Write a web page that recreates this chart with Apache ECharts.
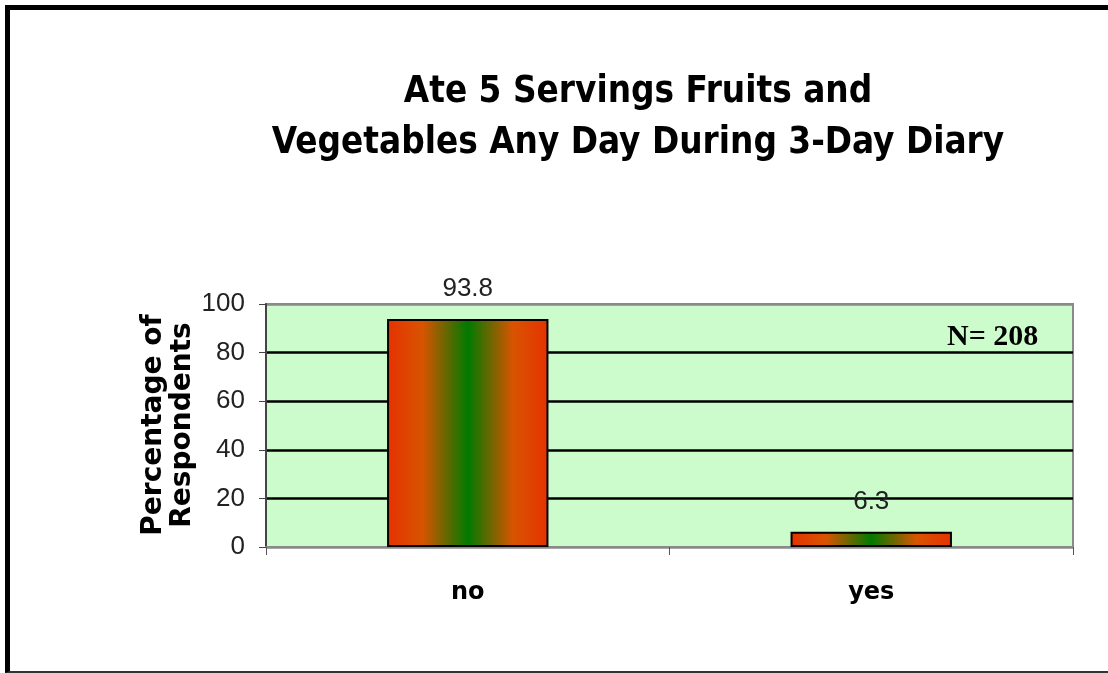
<!DOCTYPE html>
<html>
<head>
<meta charset="utf-8">
<script src="https://cdn.jsdelivr.net/npm/echarts@6/dist/echarts.min.js"></script>
<style>
  html, body { margin: 0; padding: 0; background: #fff; }
  #wrap { position: relative; width: 1108px; height: 673px; }
  #chart { width: 1108px; height: 673px; }
  #frame {
    position: absolute; left: 5px; top: 5px; right: -10px; bottom: 0px;
    border-left: 5px solid #000; border-top: 5px solid #000; border-bottom: 2px solid #333;
    pointer-events: none;
  }
</style>
</head>
<body>
<div id="wrap">
  <div id="chart"></div>
  <div id="frame"></div>
</div>
<script>
// data
const categories = ['no', 'yes']
const percentages = [93.8, 6.3]
const yTicks = [0, 20, 40, 60, 80, 100]
const titleLines = ['Ate 5 Servings Fruits and', 'Vegetables Any Day During 3-Day Diary']
const yAxisTitle = 'Percentage of\nRespondents'
const sampleNote = 'N= 208'

const myChart = echarts.init(document.getElementById('chart'))

// red - green - red across each bar
const barFill = new echarts.graphic.LinearGradient(0, 0, 1, 0, [
  { offset: 0, color: '#e63200' },
  { offset: 0.22, color: '#d85400' },
  { offset: 0.5, color: '#007a00' },
  { offset: 0.78, color: '#d85400' },
  { offset: 1, color: '#e63200' }
])

const option = {
  backgroundColor: '#fff',
  animation: false,
  title: {
    text: titleLines.join('\n'),
    left: 633,
    textAlign: 'center',
    top: 62,
    textStyle: {
      fontFamily: 'DejaVu Sans Condensed',
      fontWeight: 'bold',
      fontSize: 36.5,
      lineHeight: 51,
      color: '#000'
    }
  },
  grid: {
    left: 266,
    right: 35,
    top: 304,
    bottom: 126,
    show: true,
    backgroundColor: '#ccfccc',
    borderColor: '#8a8a8a',
    borderWidth: 2
  },
  xAxis: {
    type: 'category',
    data: categories,
    axisLine: { show: true, lineStyle: { color: '#8a8a8a', width: 2 } },
    axisTick: { show: true, length: 8, lineStyle: { color: '#555', width: 1 } },
    axisLabel: {
      margin: 34,
      fontFamily: 'DejaVu Sans',
      fontWeight: 'bold',
      fontSize: 24,
      color: '#000'
    }
  },
  yAxis: {
    type: 'value',
    min: yTicks[0],
    max: yTicks[yTicks.length - 1],
    interval: 20,
    axisLine: { show: true, lineStyle: { color: '#444', width: 2 } },
    axisTick: { show: true, inside: false, length: 7, lineStyle: { color: '#444', width: 1 } },
    axisLabel: {
      margin: 21,
      fontFamily: 'Liberation Sans',
      fontSize: 26,
      color: '#222'
    },
    splitLine: {
      show: true,
      lineStyle: { color: ['#8a8a8a', '#000', '#000', '#000', '#000', '#8a8a8a'], width: 2.5 }
    }
  },
  series: [
    {
      type: 'bar',
      data: percentages,
      barWidth: '40%',
      itemStyle: {
        color: barFill,
        borderColor: '#000',
        borderWidth: 2
      },
      label: {
        show: true,
        position: 'top',
        distance: 17,
        fontFamily: 'Liberation Sans',
        fontSize: 26,
        color: '#222'
      }
    }
  ],
  graphic: [
    {
      type: 'text',
      x: 168,
      y: 425,
      rotation: Math.PI / 2,
      style: {
        text: yAxisTitle,
        align: 'center',
        verticalAlign: 'middle',
        fontFamily: 'DejaVu Sans',
        fontWeight: 'bold',
        fontSize: 28,
        lineHeight: 29,
        fill: '#000'
      }
    },
    {
      type: 'text',
      left: 947,
      top: 322,
      style: {
        text: sampleNote,
        fontFamily: 'Liberation Serif',
        fontWeight: 'bold',
        fontSize: 30,
        fill: '#000'
      },
      z: 100
    }
  ]
}

myChart.setOption(option)
</script>
</body>
</html>
